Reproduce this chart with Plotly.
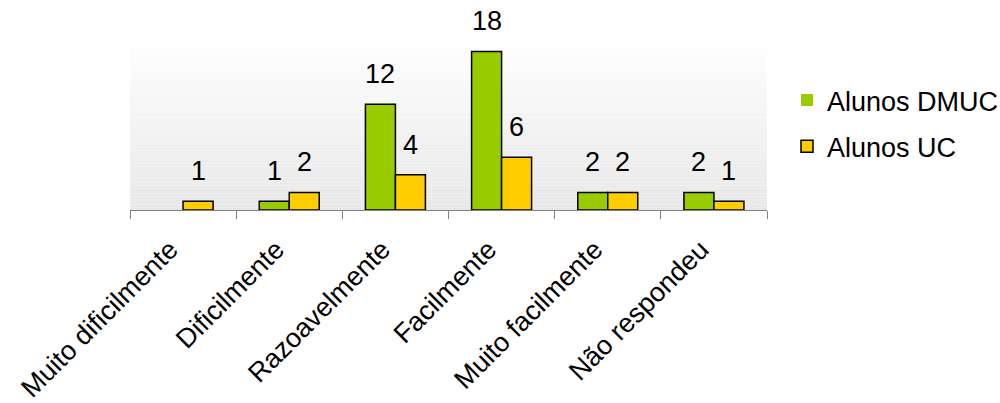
import plotly.graph_objects as go

categories = ["Muito dificilmente", "Dificilmente", "Razoavelmente", "Facilmente",
              "Muito facilmente", "Não respondeu"]
dmuc = [0, 1, 12, 18, 2, 2]
uc = [1, 2, 4, 6, 2, 1]
series_names = ["Alunos DMUC", "Alunos UC"]
colors = ["#99CC00", "#FFCC00"]

FONT = "Liberation Sans, Arial, sans-serif"
FS = 27
bargap = 0.435
W, H = 1040, 403
ML, MR, MT, MB = 130, 273, 47, 193
plot_w = W - ML - MR
plot_h = H - MT - MB

fig = go.Figure()
for name, vals, col in zip(series_names, [dmuc, uc], colors):
    fig.add_trace(go.Bar(
        x=categories, y=vals, name=name, legendgroup=name,
        marker=dict(color=col,
                    line=dict(color="black", width=[0 if v == 0 else 1.5 for v in vals])),
    ))

# value labels
half = (1 - bargap) / 4
annotations = []
for k, vals in enumerate([dmuc, uc]):
    off = -half if k == 0 else half
    for i, v in enumerate(vals):
        if v == 0:
            continue
        annotations.append(dict(
            x=i + off, y=v, xref="x", yref="y", text=str(v), showarrow=False,
            yanchor="middle", yshift=30, font=dict(family=FONT, size=FS, color="black"),
        ))

# gradient background of plot area
shapes = []
n = 60
top = (253, 253, 253)
bot = (232, 232, 232)
for j in range(n):
    t = j / (n - 1)
    c = tuple(round(top[m] + (bot[m] - top[m]) * t) for m in range(3))
    shapes.append(dict(
        type="rect", xref="x domain", yref="y domain", x0=0, x1=1,
        y0=1 - (j + 1) / n, y1=1 - j / n, layer="below",
        fillcolor="rgb(%d,%d,%d)" % c, line=dict(width=0),
    ))

fig.update_layout(
    width=W, height=H,
    margin=dict(l=ML, r=MR, t=MT, b=MB),
    paper_bgcolor="white", plot_bgcolor="rgba(0,0,0,0)",
    barmode="group", bargap=bargap, bargroupgap=0,
    font=dict(family=FONT, size=FS, color="black"),
    showlegend=True,
    legend=dict(x=(787 - ML) / plot_w, y=1 - (76 - MT) / plot_h,
                xanchor="left", yanchor="top",
                font=dict(family=FONT, size=FS, color="black"),
                traceorder="grouped", tracegroupgap=8,
                bgcolor="rgba(0,0,0,0)", borderwidth=0),
    annotations=annotations,
    shapes=shapes,
    xaxis=dict(showline=True, linecolor="#808080", linewidth=1,
               ticks="outside", ticklen=8, tickcolor="#808080",
               tickson="boundaries", tickangle=-45,
               ticklabelshift=-13, ticklabelstandoff=12,
               tickfont=dict(family=FONT, size=27, color="black"),
               showgrid=False, zeroline=False, automargin=False),
    yaxis=dict(visible=False, range=[0, 18.5], showgrid=False, zeroline=False,
               automargin=False),
)

fig.write_html("out.html", config={"displayModeBar": False},
               post_script="document.body.style.margin='0';")
